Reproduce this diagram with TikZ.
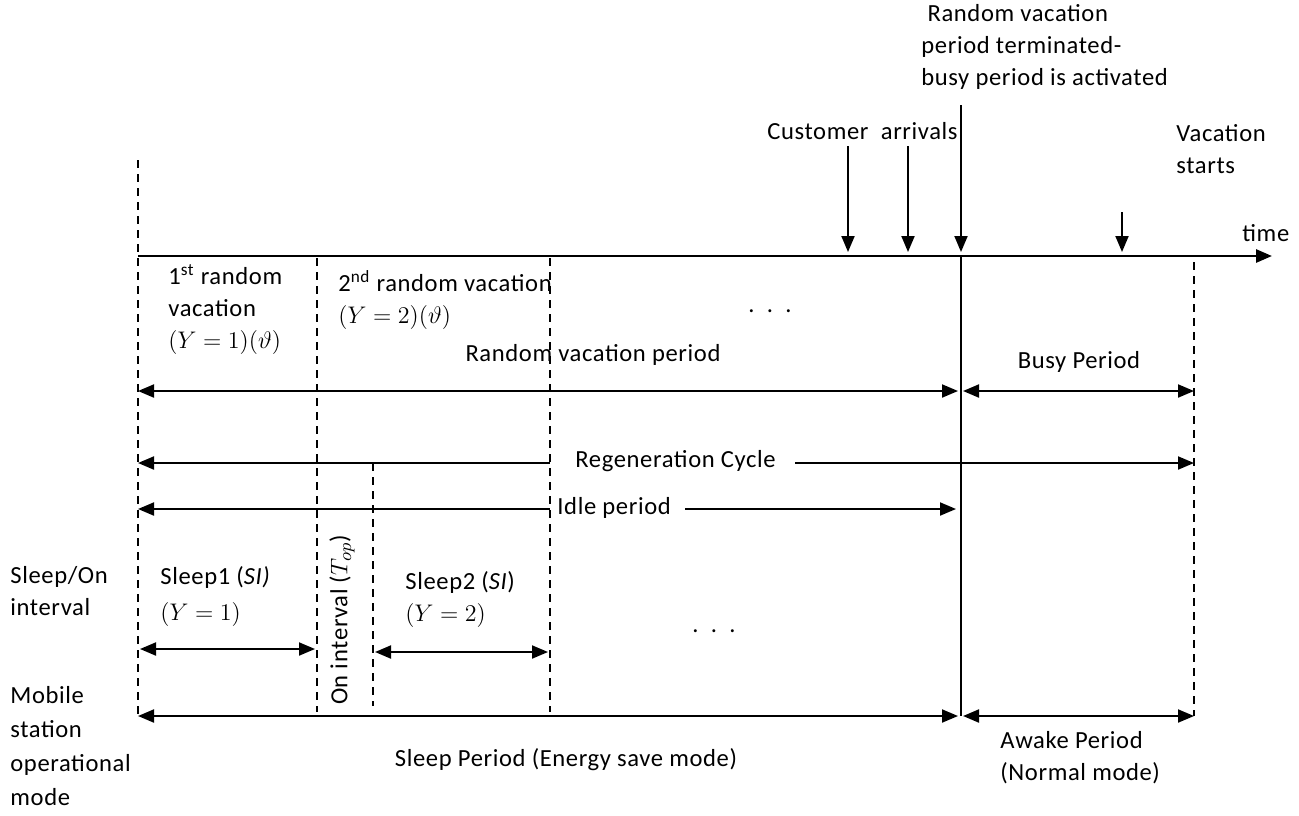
\documentclass[tikz,border=0pt]{standalone}
\usepackage{amsmath}
\usepackage{fontspec}
\setmainfont{Carlito}[LetterSpace=2.5]
\usetikzlibrary{arrows.meta}

\begin{document}
\begin{tikzpicture}[x=0.5pt, y=-0.5pt,
    >={Triangle[length=8pt,width=6.5pt]},
    axis/.style={line width=1pt},
    guide/.style={line width=0.6pt, dash pattern=on 4pt off 3pt},
    txt/.style={font=\fontsize{12.3}{16}\selectfont, inner sep=0pt, align=left}]
    \useasboundingbox (0,0) rectangle (1299,815);
    % Time axis
    \coordinate (t0) at (138,256);
    \coordinate (t1) at (1272,256);
    \draw[axis,line width=1.4pt,->] (t0) -- (t1);
    \node[txt, anchor=west] (time) at (1242,233) {time};
    % Guide lines
    \coordinate (g0a) at (138,160);  \coordinate (g0b) at (138,716);
    \coordinate (g1a) at (317,258);  \coordinate (g1b) at (317,712);
    \coordinate (g2a) at (373,463);  \coordinate (g2b) at (373,706);
    \coordinate (g3a) at (550,258);  \coordinate (g3b) at (550,712);
    \coordinate (g4a) at (1194,262); \coordinate (g4b) at (1194,716);
    \draw[guide] (g0a) -- (g0b);
    \draw[guide] (g1a) -- (g1b);
    \draw[guide] (g2a) -- (g2b);
    \draw[guide] (g3a) -- (g3b);
    \draw[guide] (g4a) -- (g4b);
    % Events on the axis
    \coordinate (c1a) at (848,146);  \coordinate (c1b) at (848,252);
    \coordinate (c2a) at (908,146);  \coordinate (c2b) at (908,252);
    \coordinate (ta) at (961,105);   \coordinate (tb) at (961,252);
    \coordinate (tc) at (961,256);   \coordinate (td) at (961,716);
    \coordinate (va) at (1122,212);  \coordinate (vb) at (1122,252);
    \draw[axis,->] (c1a) -- (c1b);
    \draw[axis,->] (c2a) -- (c2b);
    \draw[axis,->] (ta) -- (tb);
    \draw[axis] (tc) -- (td);
    \draw[axis,->] (va) -- (vb);
    \node[txt, anchor=west] (arr) at (767,131) {Customer\ \ arrivals};
    \node[txt, anchor=north west] (term) at (921,4)
        {\ Random vacation\\period terminated-\\busy period is activated};
    \node[txt, anchor=north west] (vst) at (1176,124) {Vacation\\starts};
    % Random vacations
    \node[txt, anchor=north west] (rv1) at (168,264)
        {1\textsuperscript{st} random\\vacation\\$(Y=1)(\vartheta)$};
    \node[txt, anchor=north west] (rv2) at (338,270)
        {2\textsuperscript{nd} random vacation\\$(Y=2)(\vartheta)$};
    \node[txt] (dots1) at (770,311) {.\ \ .\ \ .};
    \node[txt] (rvp) at (593,355) {Random vacation period};
    \node[txt] (busy) at (1079,362) {Busy Period};
    \coordinate (rva) at (138,391);  \coordinate (rvb) at (958,391);
    \coordinate (bpa) at (963,391);  \coordinate (bpb) at (1194,391);
    \draw[axis,<->] (rva) -- (rvb);
    \draw[axis,<->] (bpa) -- (bpb);
    % Regeneration cycle and idle period
    \node[txt, anchor=west] (regen) at (575,461) {Regeneration Cycle};
    \coordinate (rca) at (138,463);  \coordinate (rcb) at (550,463);
    \coordinate (rcc) at (795,463);  \coordinate (rcd) at (1194,463);
    \draw[axis,<-] (rca) -- (rcb);
    \draw[axis,->] (rcc) -- (rcd);
    \node[txt, anchor=west] (idle) at (557,508) {Idle period};
    \coordinate (ipa) at (138,509);  \coordinate (ipb) at (550,509);
    \coordinate (ipc) at (685,509);  \coordinate (ipd) at (956,509);
    \draw[axis,<-] (ipa) -- (ipb);
    \draw[axis,->] (ipc) -- (ipd);
    % Sleep/On intervals
    \node[txt, anchor=north west] (son) at (10,566) {Sleep/On\\interval};
    \node[txt, anchor=north west] (sl1) at (160,566)
        {Sleep1 (\textit{SI)}\\[2pt]$(Y=1)$};
    \node[txt, anchor=north west] (sl2) at (405,571)
        {Sleep2 (\textit{SI})\\$(Y=2)$};
    \node[txt, rotate=90] (on) at (342,620) {On interval ($T_{op}$)};
    \node[txt] (dots2) at (714,631) {.\ \ .\ \ .};
    \coordinate (s1a) at (140,649);  \coordinate (s1b) at (315,649);
    \coordinate (s2a) at (375,652);  \coordinate (s2b) at (548,652);
    \draw[axis,<->] (s1a) -- (s1b);
    \draw[axis,<->] (s2a) -- (s2b);
    % Operational mode
    \node[txt, anchor=north west, font=\fontsize{12.3}{17}\selectfont] (mode) at (10,686)
        {Mobile\\station\\operational\\mode};
    \coordinate (spa) at (138,716);  \coordinate (spb) at (958,716);
    \coordinate (apa) at (963,716);  \coordinate (apb) at (1194,716);
    \draw[axis,<->] (spa) -- (spb);
    \draw[axis,<->] (apa) -- (apb);
    \node[txt] (sleep) at (566,760) {Sleep Period (Energy save mode)};
    \node[txt, anchor=north west] (awake) at (1000,731) {Awake Period\\(Normal mode)};
\end{tikzpicture}
\end{document}
